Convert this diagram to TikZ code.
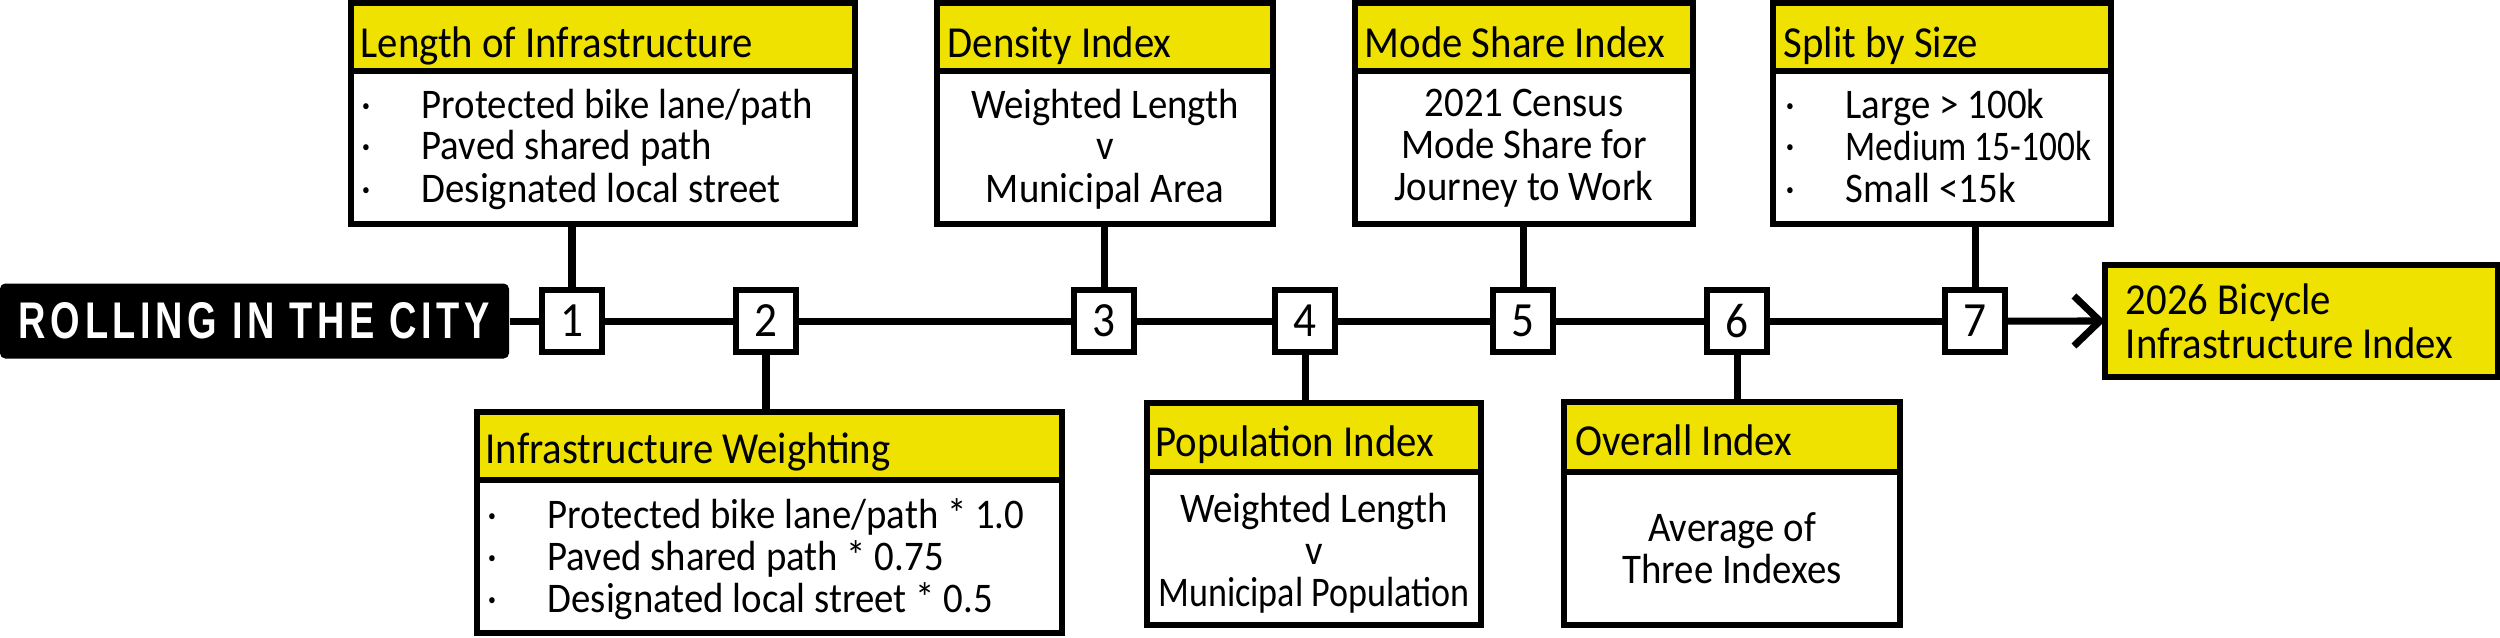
\documentclass[tikz,border=0pt]{standalone}
\usepackage{fontspec}
\usepackage{graphicx}
\setmainfont{Carlito}[FakeStretch=0.92]
\newfontfamily\titlefont{Liberation Sans}[LetterSpace=12]
\usetikzlibrary{arrows.meta}
\definecolor{ybox}{RGB}{239,226,0}
\newcommand\bodyfont{\fontsize{12pt}{11.95pt}\selectfont}
\newcommand\headfont{\fontsize{12.6pt}{12.6pt}\selectfont}
\newcommand\numfont{\fontsize{14pt}{14pt}\selectfont}
\newcommand\bul{\makebox[0.6cm][l]{·}}
\newcommand\squeeze[2]{\scalebox{#1}[1]{#2}}
\begin{document}
\begin{tikzpicture}[y=-1cm,
  lw/.style={line width=1.6pt},
  hdr/.style={draw, lw, fill=ybox, anchor=north west, inner sep=0pt, outer sep=0pt},
  bdy/.style={draw, lw, fill=white, anchor=north west, inner sep=0pt, outer sep=0pt},
  numbox/.style={draw, lw, fill=white, minimum width=0.6cm, minimum height=0.62cm, inner sep=0pt, font=\numfont},
  link/.style={line width=2pt},
  htxt/.style={anchor=base west, inner sep=0pt, font=\headfont},
  ltxt/.style={anchor=north west, inner sep=0pt, align=left, font=\bodyfont},
  ctxt/.style={anchor=north, inner sep=0pt, align=center, font=\bodyfont},
]
\useasboundingbox (0,0) rectangle (25,6.37);

% title
\node[fill=black, minimum width=5.09cm, minimum height=0.75cm, inner sep=0pt, rounded corners=1.5pt] (title) at (2.545,3.21)
  {\color{white}\resizebox{4.71cm}{0.36cm}{\titlefont\bfseries ROLLING IN THE CITY}};

% number boxes
\node[numbox] (n1) at (5.72,3.21) {1};
\node[numbox] (n2) at (7.66,3.21) {2};
\node[numbox] (n3) at (11.04,3.21) {3};
\node[numbox] (n4) at (13.05,3.21) {4};
\node[numbox] (n5) at (15.23,3.21) {5};
\node[numbox] (n6) at (17.37,3.21) {6};
\node[numbox] (n7) at (19.75,3.21) {7};

% final box
\node[hdr, minimum width=3.93cm, minimum height=1.12cm] (fin) at (21.05,2.65) {};
\node[ltxt, font=\headfont] (fint) at (21.25,2.83) {2026 Bicycle\\Infrastructure Index};

% timeline
\draw[link] (title) -- (n1) -- (n2) -- (n3) -- (n4) -- (n5) -- (n6) -- (n7);
\draw[link, -{Straight Barb[length=0.26cm, width=0.5cm, line width=2pt]}] (n7) -- (fin);

% box A
\node[hdr, minimum width=5.04cm, minimum height=0.68cm] (Ah) at (3.51,0.03) {};
\node[bdy, minimum width=5.04cm, minimum height=1.53cm] (Ab) at (3.51,0.71) {};
\node[htxt] (At) at (3.60,0.57) {Length of Infrastructure};
\node[ltxt] (Al) at (3.61,0.88) {\bul Protected bike lane/path\\\bul Paved shared path\\\bul Designated local street};

% box B
\node[hdr, minimum width=3.36cm, minimum height=0.68cm] (Bh) at (9.37,0.03) {};
\node[bdy, minimum width=3.36cm, minimum height=1.53cm] (Bb) at (9.37,0.71) {};
\node[htxt] (Bt) at (9.47,0.57) {Density Index};
\node[ctxt] (Bl) at (11.05,0.88) {Weighted Length\\v\\Municipal Area};

% box C
\node[hdr, minimum width=3.38cm, minimum height=0.68cm] (Ch) at (13.55,0.03) {};
\node[bdy, minimum width=3.38cm, minimum height=1.53cm] (Cb) at (13.55,0.71) {};
\node[htxt] (Ct) at (13.64,0.57) {Mode Share Index};
\node[ctxt] (Cl) at (15.24,0.88) {2021 Census\\Mode Share for\\Journey to Work};

% box D
\node[hdr, minimum width=3.38cm, minimum height=0.68cm] (Dh) at (17.73,0.03) {};
\node[bdy, minimum width=3.38cm, minimum height=1.53cm] (Db) at (17.73,0.71) {};
\node[htxt] (Dt) at (17.83,0.57) {Split by Size};
\node[ltxt] (Dl) at (17.85,0.88) {\bul Large > 100k\\\bul \squeeze{0.91}{Medium 15-100k}\\\bul Small <15k};

% box E
\node[hdr, minimum width=5.85cm, minimum height=0.68cm] (Eh) at (4.77,4.12) {};
\node[bdy, minimum width=5.85cm, minimum height=1.53cm] (Eb) at (4.77,4.80) {};
\node[htxt] (Et) at (4.85,4.63) {Infrastructure Weighting};
\node[ltxt] (El) at (4.87,4.98) {\bul Protected bike lane/path * 1.0\\\bul Paved shared path * 0.75\\\bul Designated local street * 0.5};

% box F
\node[hdr, minimum width=3.34cm, minimum height=0.69cm] (Fh) at (11.47,4.03) {};
\node[bdy, minimum width=3.34cm, minimum height=1.53cm] (Fb) at (11.47,4.72) {};
\node[htxt] (Ft) at (11.55,4.56) {Population Index};
\node[ctxt] (Fl) at (13.14,4.92) {Weighted Length\\v\\\squeeze{0.93}{Municipal Population}};

% box G
\node[hdr, minimum width=3.36cm, minimum height=0.70cm] (Gh) at (15.64,4.02) {};
\node[bdy, minimum width=3.36cm, minimum height=1.53cm] (Gb) at (15.64,4.72) {};
\node[htxt] (Gt) at (15.75,4.55) {Overall Index};
\node[ctxt] (Gl) at (17.32,5.12) {Average of\\Three Indexes};

% connectors
\draw[link] (n1.north) -- (n1.north |- Ab.south);
\draw[link] (n3.north) -- (n3.north |- Bb.south);
\draw[link] (n5.north) -- (n5.north |- Cb.south);
\draw[link] (n7.north) -- (n7.north |- Db.south);
\draw[link] (n2.south) -- (n2.south |- Eh.north);
\draw[link] (n4.south) -- (n4.south |- Fh.north);
\draw[link] (n6.south) -- (n6.south |- Gh.north);
\end{tikzpicture}
\end{document}
